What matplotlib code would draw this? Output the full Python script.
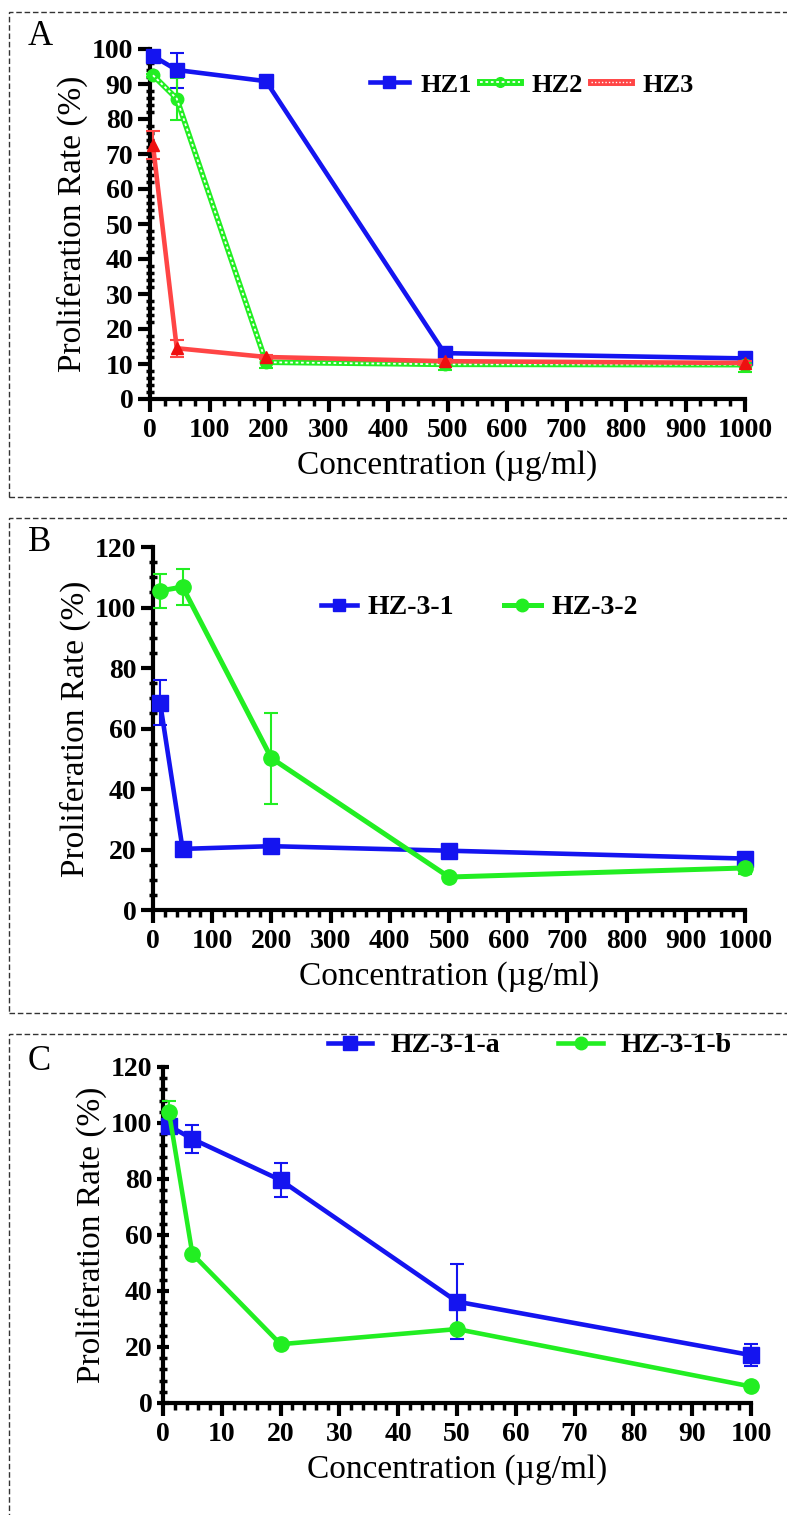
import matplotlib
matplotlib.use("Agg")
import matplotlib.pyplot as plt
from matplotlib.patches import Rectangle
from matplotlib.legend_handler import HandlerTuple
from matplotlib.ticker import MultipleLocator

plt.rcParams['font.family'] = ['Liberation Serif', 'DejaVu Serif']

# ---- data ----
conc_a = [5, 45, 195, 495, 1000]
hz1 = [98.0, 94.0, 90.8, 13.1, 11.6]
hz1_err = [1.5, 5.0, 0.8, 0.8, 1.0]
hz2 = [92.5, 85.8, 10.5, 9.9, 9.8]
hz2_err = [0.5, 6.0, 1.5, 1.5, 2.0]
hz3 = [72.5, 14.5, 12.0, 10.8, 10.3]
hz3_err = [4.0, 2.5, 0.5, 0.5, 0.5]

conc_b = [12, 50, 200, 500, 1000]
hz31 = [68.5, 20.2, 21.1, 19.6, 17.0]
hz31_err = [7.5, 0.8, 0.8, 0.8, 0.8]
hz32 = [105.5, 106.8, 50.2, 10.9, 13.9]
hz32_err = [5.5, 6.0, 15.0, 1.0, 2.0]

conc_c = [1, 5, 20, 50, 100]
hz31a = [99.0, 94.3, 79.6, 36.2, 17.1]
hz31a_err = [1.5, 5.0, 6.2, 13.3, 4.0]
hz31b = [104.0, 53.2, 21.0, 26.4, 5.9]
hz31b_err = [4.0, 0.8, 0.8, 0.8, 0.5]

BLUE = '#1414f0'
GREEN = '#22ee22'
RED = '#ff4545'

W, H = 787, 1515
fig = plt.figure(figsize=(W / 100, H / 100), dpi=100)


def px_axes(left, right, top, bottom):
    # pixel box -> figure fraction
    return fig.add_axes([left / W, 1 - bottom / H, (right - left) / W, (bottom - top) / H])


def style_axes(ax, xmaj, xmin, ymaj, ymin, ydir='out'):
    for s in ['top', 'right']:
        ax.spines[s].set_visible(False)
    for s in ['left', 'bottom']:
        ax.spines[s].set_linewidth(3)
    ax.xaxis.set_major_locator(MultipleLocator(xmaj))
    ax.xaxis.set_minor_locator(MultipleLocator(xmin))
    ax.yaxis.set_major_locator(MultipleLocator(ymaj))
    ax.yaxis.set_minor_locator(MultipleLocator(ymin))
    ax.tick_params(axis='x', which='major', direction='out', length=9, width=3, labelsize=20, pad=5)
    ax.tick_params(axis='x', which='minor', direction='out', length=5, width=2.5)
    ax.tick_params(axis='y', which='major', direction=ydir, length=9, width=3, labelsize=20, pad=3)
    ax.tick_params(axis='y', which='minor', direction='inout', length=6, width=2.5)
    for lab in ax.get_xticklabels() + ax.get_yticklabels():
        lab.set_fontweight('bold')
    ax.set_xlabel('Concentration (µg/ml)', fontsize=24, labelpad=5)
    ax.set_ylabel('Proliferation Rate (%)', fontsize=24, labelpad=3)
    ax.patch.set_alpha(0)


def series(ax, x, y, err, color, marker, ms, lw=3):
    ax.errorbar(x, y, yerr=err, color=color, lw=lw, marker=marker, ms=ms,
                elinewidth=1.5, capsize=5, capthick=1.5, clip_on=False, zorder=3)
    return ax.plot([], [], color=color, lw=lw, marker=marker, ms=ms - 2)[0]


# dashed panel frames
for top, bottom in [(12, 497), (518, 1013), (1034, 1530)]:
    fig.patches.append(Rectangle((9 / W, 1 - bottom / H), (790 - 9) / W, (bottom - top) / H,
                                 transform=fig.transFigure, fill=False, ls=(0, (4, 2)),
                                 lw=1.0, ec='#333333', zorder=0))

# ---- panel A ----
axA = px_axes(150, 745, 49, 399)
axA.set_xlim(0, 1000)
axA.set_ylim(0, 100)
h1 = series(axA, conc_a, hz1, hz1_err, BLUE, 's', 10, lw=3.3)
axA.errorbar(conc_a, hz2, yerr=hz2_err, color=GREEN, lw=4, marker='o', ms=9,
             elinewidth=1.5, capsize=5, capthick=1.5, clip_on=False, zorder=3)
axA.plot(conc_a, hz2, color='white', lw=1.3, ls=(0, (1.5, 1.5)), zorder=3.5)
axA.errorbar(conc_a, hz3, yerr=hz3_err, color=RED, lw=3.3, marker='^', ms=9, mfc='#ee1010',
             mec='#ee1010', elinewidth=1.5, capsize=5, capthick=1.5, clip_on=False, zorder=3.6)
style_axes(axA, 100, 25, 10, 2)
g_base = axA.plot([], [], color=GREEN, lw=5, marker='o', ms=7)[0]
g_dots = axA.plot([], [], color='white', lw=1.3, ls=(0, (1.5, 1.5)))[0]
r_base = axA.plot([], [], color=RED, lw=5)[0]
r_dots = axA.plot([], [], color='white', lw=1.0, ls=(0, (1, 1.5)))[0]
axA.legend([h1, (g_base, g_dots), (r_base, r_dots)], ['HZ1', 'HZ2', 'HZ3'],
           handler_map={tuple: HandlerTuple(ndivide=1, pad=0)},
           loc='upper left', bbox_to_anchor=(0.329, 0.999), ncol=3, frameon=False,
           prop={'weight': 'bold', 'size': 19}, handlelength=1.5, handletextpad=0.45,
           columnspacing=0.3)
fig.text(28 / W, 1 - 45 / H, 'A', fontsize=25, ha='left', va='baseline')

# ---- panel B ----
axB = px_axes(153, 745, 547, 910)
axB.set_xlim(0, 1000)
axB.set_ylim(0, 120)
hb1 = series(axB, conc_b, hz31, hz31_err, BLUE, 's', 11, lw=3.3)
hb2 = series(axB, conc_b, hz32, hz32_err, GREEN, 'o', 11, lw=3.6)
style_axes(axB, 100, 20, 20, 5)
axB.legend([hb1, hb2], ['HZ-3-1', 'HZ-3-2'], loc='upper left', bbox_to_anchor=(0.241, 0.937),
           ncol=2, frameon=False, prop={'weight': 'bold', 'size': 20}, handlelength=1.3,
           handletextpad=0.4, columnspacing=1.8)
fig.text(28 / W, 1 - 551 / H, 'B', fontsize=25, ha='left', va='baseline')

# ---- panel C ----
axC = px_axes(163, 751, 1067, 1403)
axC.set_xlim(0, 100)
axC.set_ylim(0, 120)
hc1 = series(axC, conc_c, hz31a, hz31a_err, BLUE, 's', 12, lw=3.3)
hc2 = series(axC, conc_c, hz31b, hz31b_err, GREEN, 'o', 11, lw=3.3)
style_axes(axC, 10, 2, 20, 4, ydir='inout')
axC.legend([hc1, hc2], ['HZ-3-1-a', 'HZ-3-1-b'], loc='upper left', bbox_to_anchor=(0.238, 1.176),
           ncol=2, frameon=False, prop={'weight': 'bold', 'size': 20}, handlelength=1.6,
           handletextpad=0.65, columnspacing=2.1)
fig.text(28 / W, 1 - 1070 / H, 'C', fontsize=25, ha='left', va='baseline')

fig.savefig('out.png', dpi=100)
